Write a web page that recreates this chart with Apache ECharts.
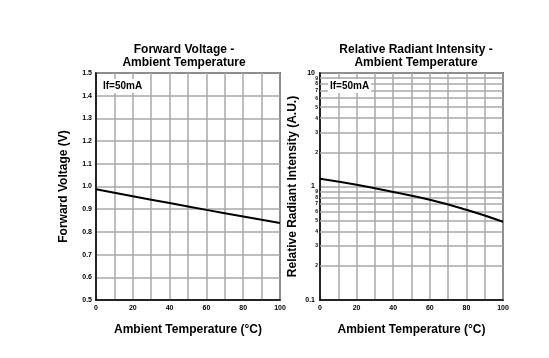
<!DOCTYPE html>
<html><head><meta charset="utf-8">
<script src="https://cdn.jsdelivr.net/npm/echarts@6/dist/echarts.min.js"></script>
<style>html,body{margin:0;padding:0;background:#fff}#c{width:549px;height:358px}</style>
</head><body><div id="c"></div>
<script>
var temps = [0, 20, 40, 60, 80, 100];
var forwardVoltage = [0.988, 0.957, 0.927, 0.897, 0.868, 0.839];
var relIntensity = [1.17, 1.035, 0.893, 0.764, 0.623, 0.489];
var minorLogTicks = [0.2,0.3,0.4,0.5,0.6,0.7,0.8,0.9,2,3,4,5,6,7,8,9];
var titleLeft = 'Forward Voltage -\nAmbient Temperature';
var titleRight = 'Relative Radiant Intensity -\nAmbient Temperature';
var xName = 'Ambient Temperature (°C)';
var yNameLeft = 'Forward Voltage (V)';
var yNameRight = 'Relative Radiant Intensity (A.U.)';
var condition = 'If=50mA';

var FONT = 'Liberation Sans';
var GRIDC = '#a8a8a8';
function pairs(xs, ys){ return xs.map(function(x,i){return [x, ys[i]];}); }

var chart = echarts.init(document.getElementById('c'), null, {renderer:'canvas'});
var xAxisBase = function(gi){ return {
  type:'value', gridIndex:gi, min:0, max:100, interval:10,
  name:xName, nameLocation:'middle', nameGap:24,
  nameTextStyle:{fontFamily:FONT, fontWeight:'bold', fontSize:12, color:'#000'},
  axisLine:{show:true, lineStyle:{color:'#000', width:1.5}},
  axisTick:{show:false},
  axisLabel:{fontFamily:FONT, fontWeight:'bold', fontSize:7, color:'#000', margin:5,
    formatter:function(v){ return (Math.round(v)%20===0)? String(Math.round(v)) : ''; }},
  splitLine:{show:true, lineStyle:{color:GRIDC, width:1.5}}
};};

var option = {
  animation:false,
  title:[
    {text:titleLeft, left:179, top:38, textAlign:'center',
     textStyle:{fontFamily:FONT, fontWeight:'bold', fontSize:12, lineHeight:13, color:'#000'}},
    {text:titleRight, left:411, top:38, textAlign:'center',
     textStyle:{fontFamily:FONT, fontWeight:'bold', fontSize:12, lineHeight:13, color:'#000'}},
    {text:condition, left:101, top:79, backgroundColor:'#fff', padding:[2,2],
     textStyle:{fontFamily:FONT, fontWeight:'bold', fontSize:10, color:'#000'}},
    {text:condition, left:328, top:79, backgroundColor:'#fff', padding:[2,2],
     textStyle:{fontFamily:FONT, fontWeight:'bold', fontSize:10, color:'#000'}}
  ],
  grid:[
    {left:96, right:269, top:73, bottom:58, show:true, borderColor:'#000', borderWidth:1.5, backgroundColor:'transparent'},
    {left:320, right:46, top:73, bottom:58, show:true, borderColor:'#000', borderWidth:1.5, backgroundColor:'transparent'}
  ],
  xAxis:[xAxisBase(0), xAxisBase(1)],
  yAxis:[
    {type:'value', gridIndex:0, min:0.5, max:1.5, interval:0.1,
     name:yNameLeft, nameLocation:'middle', nameGap:26,
     nameTextStyle:{fontFamily:FONT, fontWeight:'bold', fontSize:12, color:'#000'},
     axisLine:{show:true, lineStyle:{color:'#000', width:1.5}},
     axisTick:{show:false},
     axisLabel:{fontFamily:FONT, fontWeight:'bold', fontSize:7, color:'#000', margin:4,
       formatter:function(v){return v.toFixed(1);}},
     splitLine:{show:true, lineStyle:{color:GRIDC, width:1.5}}},
    {type:'log', gridIndex:1, logBase:10, min:0.1, max:10,
     name:yNameRight, nameLocation:'middle', nameGap:21,
     nameTextStyle:{fontFamily:FONT, fontWeight:'bold', fontSize:12, color:'#000'},
     axisLine:{show:true, lineStyle:{color:'#000', width:1.5}},
     axisTick:{show:false},
     axisLabel:{fontFamily:FONT, fontWeight:'bold', fontSize:7, color:'#000', margin:5,
       formatter:function(v){ return v<0.5? '0.1' : (v<5? '1' : '10'); }},
     splitLine:{show:true, lineStyle:{color:GRIDC, width:1.5}}}
  ],
  series:[
    {type:'line', xAxisIndex:0, yAxisIndex:0, data:pairs(temps, forwardVoltage),
     symbol:'none', smooth:true, lineStyle:{color:'#000', width:2}},
    {type:'line', xAxisIndex:1, yAxisIndex:1, data:pairs(temps, relIntensity),
     symbol:'none', smooth:true, lineStyle:{color:'#000', width:2}, z:5,
     markLine:{silent:true, symbol:'none', animation:false, z:1,
       lineStyle:{color:GRIDC, width:1.5, type:'solid'},
       label:{show:true, position:'start', distance:2, fontFamily:FONT, fontWeight:'bold', fontSize:5, color:'#000',
         formatter:function(p){ var v=p.value; return String(v<1? Math.round(v*10) : Math.round(v)); }},
       data:minorLogTicks.map(function(v){return {yAxis:v};})}}
  ]
};
chart.setOption(option);
</script></body></html>
